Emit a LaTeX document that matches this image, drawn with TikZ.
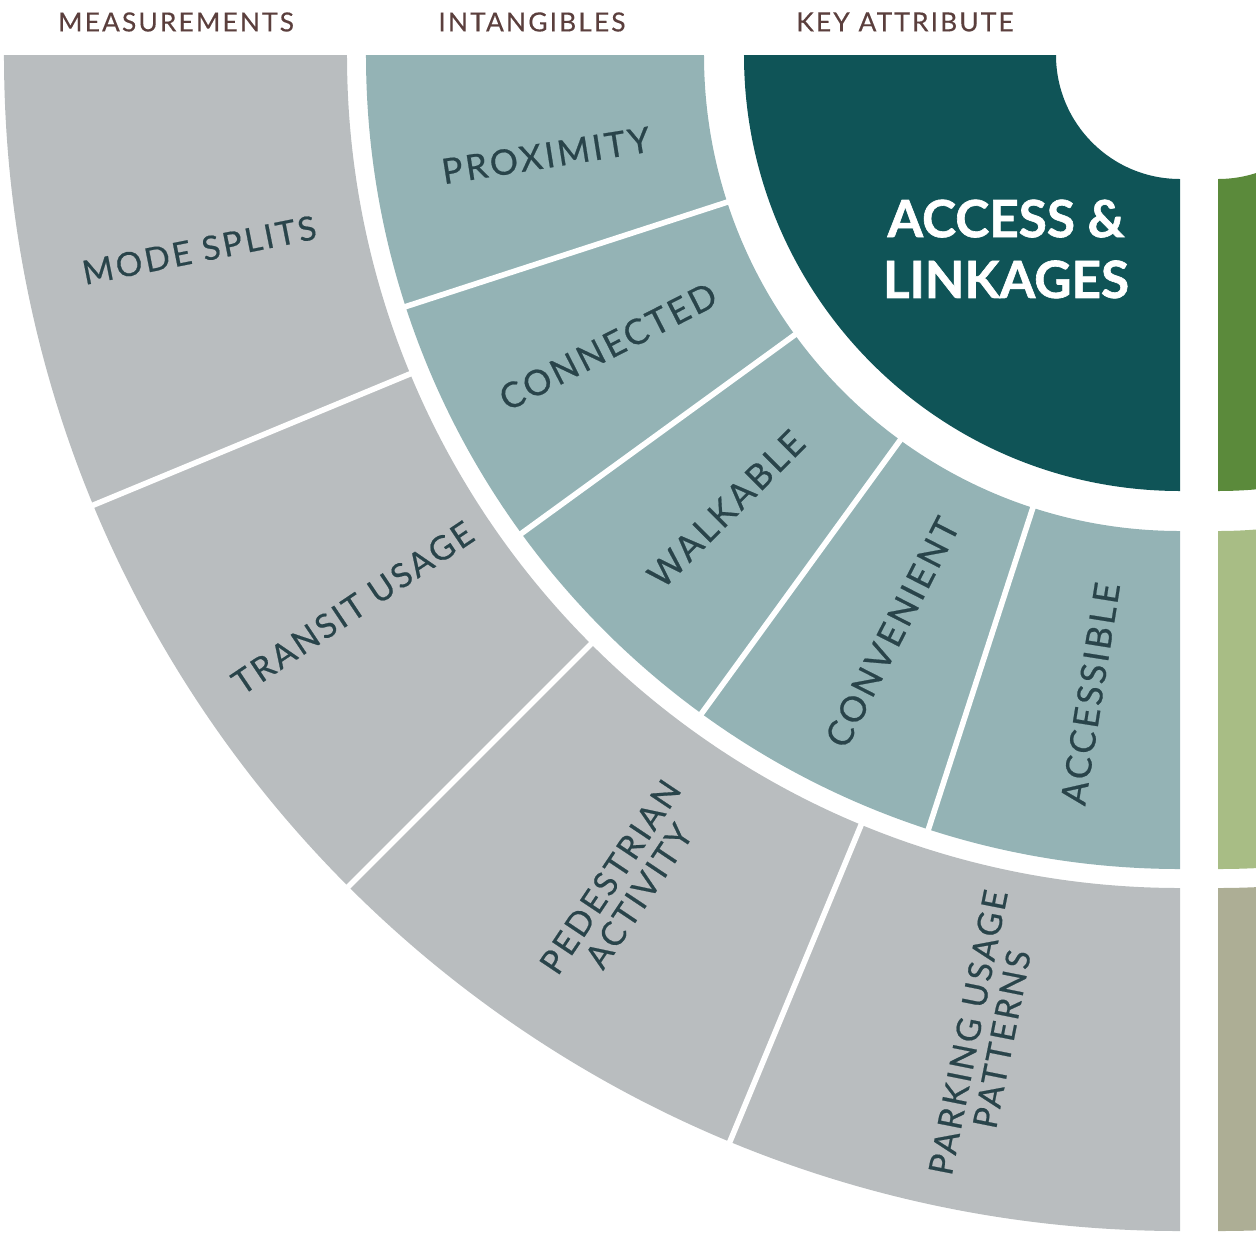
\documentclass[tikz,border=0pt]{standalone}
\usepackage{fontspec}
\setmainfont{Lato}
\newfontfamily\ringfont[LetterSpace=8, FakeBold=0.6]{Lato}
\newfontfamily\headfont[LetterSpace=8, FakeBold=0.3]{Lato}
\newfontfamily\titlefont[BoldFeatures={FakeBold=1.2}]{Lato}

\definecolor{measureGray}{HTML}{B9BDBF}
\definecolor{intangTeal}{HTML}{94B3B5}
\definecolor{keyTeal}{HTML}{0F5457}
\definecolor{nextDarkGreen}{HTML}{5B8A3B}
\definecolor{nextLightGreen}{HTML}{A8BD85}
\definecolor{nextOlive}{HTML}{ADAE95}
\definecolor{labelInk}{HTML}{29444A}
\definecolor{headInk}{HTML}{5B3F3D}

\begin{document}
\begin{tikzpicture}[
  headLabel/.style={text=headInk, font=\headfont\fontsize{7.5}{9}\selectfont, inner sep=0pt},
  grayLabel/.style={text=labelInk, font=\ringfont\fontsize{9.5}{9.8}\selectfont, align=center, inner sep=0pt},
  tealLabel/.style={text=labelInk, font=\ringfont\fontsize{10}{11}\selectfont, align=center, inner sep=0pt},
  divider/.style={white, line width=1.6pt}
]
\useasboundingbox (-11.80,0.55) rectangle (0.76,-11.80);

	\fill[measureGray] (180:11.76) arc[start angle=180, end angle=270, radius=11.76] -- (270:8.33) arc[start angle=270, end angle=180, radius=8.33] -- cycle;
	\fill[intangTeal] (180:8.14) arc[start angle=180, end angle=270, radius=8.14] -- (270:4.76) arc[start angle=270, end angle=180, radius=4.76] -- cycle;
	\fill[keyTeal] (180:4.36) arc[start angle=180, end angle=270, radius=4.36] -- (270:1.24) arc[start angle=270, end angle=180, radius=1.24] -- cycle;

	\draw[divider] (202.5:8.2) -- (202.5:11.9);
	\draw[divider] (225:8.2) -- (225:11.9);
	\draw[divider] (247.5:8.2) -- (247.5:11.9);

	\draw[divider] (198:4.6) -- (198:8.3);
	\draw[divider] (216:4.6) -- (216:8.3);
	\draw[divider] (234:4.6) -- (234:8.3);
	\draw[divider] (252:4.6) -- (252:8.3);

	\begin{scope}
	\clip (-11.80,0.55) rectangle (0.76,-11.80);
	\begin{scope}[shift={(0.38,0)}]
	\fill[nextOlive] (270:11.76) arc[start angle=270, end angle=360, radius=11.76] -- (0:8.33) arc[start angle=360, end angle=270, radius=8.33] -- cycle;
	\fill[nextLightGreen] (270:8.14) arc[start angle=270, end angle=360, radius=8.14] -- (0:4.76) arc[start angle=360, end angle=270, radius=4.76] -- cycle;
	\fill[nextDarkGreen] (270:4.36) arc[start angle=270, end angle=360, radius=4.36] -- (0:1.24) arc[start angle=360, end angle=270, radius=1.24] -- cycle;
	\end{scope}
	\end{scope}

	\node[headLabel](measurementsHead) at (-10.04,0.33){MEASUREMENTS};
	\node[headLabel](intangiblesHead) at (-6.48,0.33){INTANGIBLES};
	\node[headLabel](keyAttributeHead) at (-2.75,0.33){KEY ATTRIBUTE};

	\node[text=white, font=\titlefont\bfseries\fontsize{14.6}{17.3}\selectfont, align=center, inner sep=0pt](accessTitle) at (-1.74,-1.94){ACCESS \&\\LINKAGES};

	\node[grayLabel, rotate=11.25](modeSplitsLabel) at (191.25:10.0){MODE SPLITS};
	\node[grayLabel, rotate=33.75](transitUsageLabel) at (213.75:9.95){TRANSIT USAGE};
	\node[grayLabel, rotate=56.25](pedestrianLabel) at (236.25:10.0){PEDESTRIAN\\ACTIVITY};
	\node[grayLabel, rotate=78.75](parkingLabel) at (258.75:10.0){PARKING USAGE\\PATTERNS};

	\node[tealLabel, rotate=9](proximityLabel) at (189:6.42){PROXIMITY};
	\node[tealLabel, rotate=27](connectedLabel) at (207:6.42){CONNECTED};
	\node[tealLabel, rotate=45](walkableLabel) at (225:6.42){WALKABLE};
	\node[tealLabel, rotate=63](convenientLabel) at (243.5:6.45){CONVENIENT};
	\node[tealLabel, rotate=81](accessibleLabel) at (262:6.45){ACCESSIBLE};
\end{tikzpicture}
\end{document}
